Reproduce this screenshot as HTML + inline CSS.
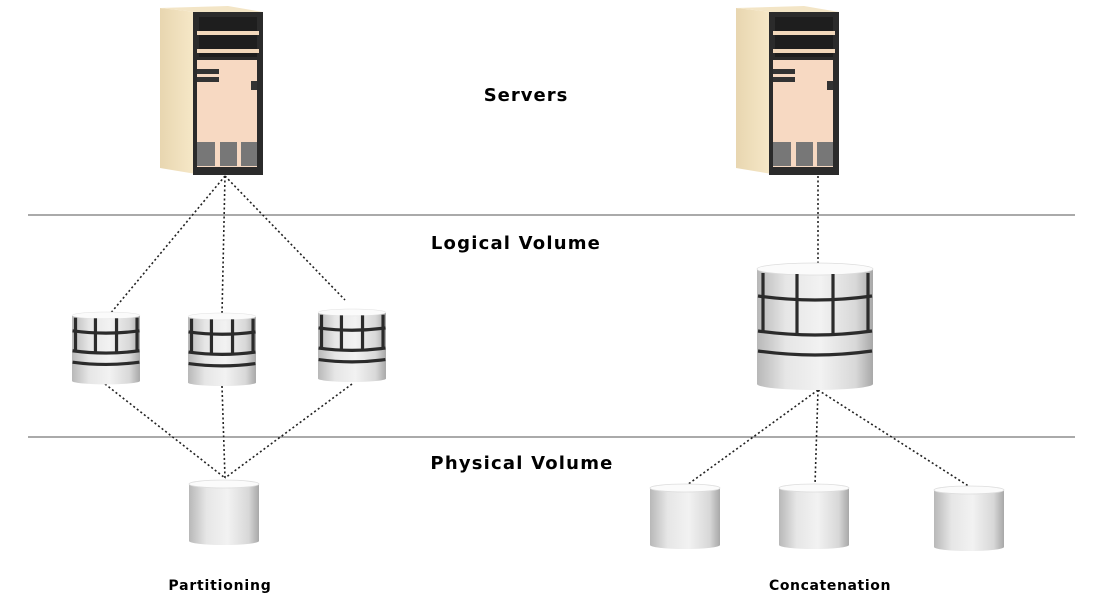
<!DOCTYPE html>
<html><head><meta charset="utf-8"><style>
html,body{margin:0;padding:0;background:#fff;width:1097px;height:605px;overflow:hidden}
svg{display:block}
text{font-family:"DejaVu Sans","Liberation Sans",sans-serif;font-weight:bold;fill:#000}
</style></head><body>
<svg width="1097" height="605" viewBox="0 0 1097 605" xmlns="http://www.w3.org/2000/svg">
<defs>
<linearGradient id="body" x1="0" x2="1" y1="0" y2="0">
<stop offset="0" stop-color="#b8b8b8"/><stop offset="0.25" stop-color="#e6e6e6"/><stop offset="0.55" stop-color="#f2f2f2"/><stop offset="0.85" stop-color="#d8d8d8"/><stop offset="1" stop-color="#a8a8a8"/>
</linearGradient>
<linearGradient id="side" x1="0" x2="1"><stop offset="0" stop-color="#e8d6b0"/><stop offset="1" stop-color="#f7e9c9"/></linearGradient>
<g id="gcyl">
<rect x="0" y="6" width="116" height="115" fill="url(#body)"/>
<ellipse cx="58" cy="121" rx="58" ry="6" fill="url(#body)"/>
<ellipse cx="58" cy="6" rx="58" ry="6" fill="#fbfbfb" stroke="#ddd" stroke-width="0.8"/>
<g stroke="#2b2b2b" stroke-width="3.2" fill="none" vector-effect="non-scaling-stroke">
<path vector-effect="non-scaling-stroke" d="M1,33 Q58,41 115,33"/><path vector-effect="non-scaling-stroke" d="M1,68 Q58,76 115,68"/><path vector-effect="non-scaling-stroke" d="M1,88 Q58,96 115,88"/>
<line vector-effect="non-scaling-stroke" x1="6" y1="10" x2="6" y2="70"/><line vector-effect="non-scaling-stroke" x1="40" y1="11" x2="40" y2="73"/><line vector-effect="non-scaling-stroke" x1="76" y1="11" x2="76" y2="73"/><line vector-effect="non-scaling-stroke" x1="111" y1="10" x2="111" y2="70"/>
</g>
</g>
<g id="pcyl">
<rect x="0" y="5" width="70" height="57" fill="url(#body)"/>
<ellipse cx="35" cy="62" rx="35" ry="4" fill="url(#body)"/>
<ellipse cx="35" cy="5" rx="35" ry="4" fill="#fbfbfb" stroke="#ddd" stroke-width="0.8"/>
</g>
<g id="server">
<polygon points="160,8 196,12 196,174 160,168" fill="url(#side)"/>
<polygon points="160,8 196,12 263,12 228,6" fill="#f3e5c6"/>
<rect x="193" y="12" width="70" height="163" fill="#2b2b2b"/>
<rect x="199" y="17" width="58" height="40" fill="#1e1e1e"/>
<rect x="197" y="31" width="62" height="4" fill="#f2d8bb"/>
<rect x="197" y="49" width="62" height="4" fill="#f2d8bb"/>
<rect x="197" y="60" width="60" height="107" fill="#f7d9c2"/>
<rect x="197" y="69" width="22" height="5" fill="#333"/>
<rect x="197" y="77" width="22" height="5" fill="#333"/>
<rect x="251" y="81" width="6" height="9" fill="#333"/>
<rect x="197" y="142" width="18" height="24" fill="#777"/>
<rect x="220" y="142" width="17" height="24" fill="#777"/>
<rect x="241" y="142" width="16" height="24" fill="#777"/>
</g>
</defs>

<line x1="28" y1="215" x2="1075" y2="215" stroke="#555" stroke-width="1"/>
<line x1="28" y1="437" x2="1075" y2="437" stroke="#555" stroke-width="1"/>

<g stroke="#222" stroke-width="1.6" stroke-dasharray="2,2.5" fill="none">
<line x1="225" y1="176" x2="110" y2="314"/>
<line x1="225" y1="176" x2="222" y2="314"/>
<line x1="225" y1="176" x2="345" y2="300"/>
<line x1="105" y1="384" x2="225" y2="478"/>
<line x1="222" y1="386" x2="225" y2="478"/>
<line x1="352" y1="384" x2="225" y2="478"/>
<line x1="818" y1="176" x2="818" y2="264"/>
<line x1="818" y1="390" x2="687" y2="485"/>
<line x1="818" y1="390" x2="815" y2="485"/>
<line x1="818" y1="390" x2="970" y2="487"/>
</g>

<use href="#server"/>
<use href="#server" transform="translate(576,0)"/>

<use href="#gcyl" transform="translate(757,263)"/>
<use href="#gcyl" transform="translate(72,312) scale(0.586,0.57)"/>
<use href="#gcyl" transform="translate(188,313) scale(0.586,0.575)"/>
<use href="#gcyl" transform="translate(318,309) scale(0.586,0.575)"/>

<use href="#pcyl" transform="translate(189,479)"/>
<use href="#pcyl" transform="translate(650,483)"/>
<use href="#pcyl" transform="translate(779,483)"/>
<use href="#pcyl" transform="translate(934,485)"/>

<text x="526" y="101" font-size="18" letter-spacing="1" text-anchor="middle">Servers</text>
<text x="516" y="249" font-size="18" letter-spacing="1.2" text-anchor="middle">Logical Volume</text>
<text x="522" y="469" font-size="18" letter-spacing="1.2" text-anchor="middle">Physical Volume</text>
<text x="220" y="590" font-size="14" letter-spacing="0.8" text-anchor="middle">Partitioning</text>
<text x="830" y="590" font-size="14" letter-spacing="0.6" text-anchor="middle">Concatenation</text>
</svg>
</body></html>
